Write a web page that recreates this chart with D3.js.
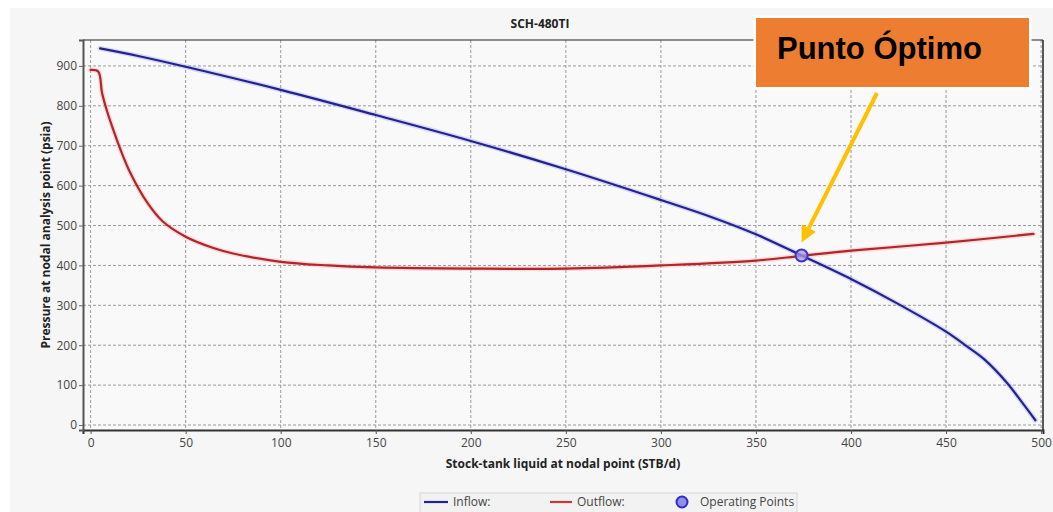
<!DOCTYPE html>
<html>
<head>
<meta charset="utf-8">
<script src="https://cdn.jsdelivr.net/npm/d3@7"></script>
<style>
  html, body { margin: 0; padding: 0; background: #ffffff; }
  svg { display: block; }
</style>
</head>
<body>
<svg id="chart" width="1053" height="512"></svg>
<script>
// Nodal analysis: inflow (IPR) vs outflow (VLP) curves for well SCH-480TI
const chartTitle = "SCH-480TI";
const xTitle = "Stock-tank liquid at nodal point (STB/d)";
const yTitle = "Pressure at nodal analysis point (psia)";

// Inflow performance curve
const inflowRate     = [5, 25, 50, 100, 150, 200, 250, 300, 325, 350, 374, 400, 425, 450, 461, 470, 482, 489, 497];
const inflowPressure = [944, 925, 898, 840, 777, 712, 641, 564, 524, 478, 425, 366, 303, 234, 197, 165, 106, 63, 12];

// Outflow (tubing) performance curve
const outflowRate     = [0, 4, 6, 8.5, 12, 15.5, 21, 30, 38, 50, 65, 75, 100, 125, 150, 200, 250, 300, 350, 374, 400, 450, 496];
const outflowPressure = [890, 886, 833, 789, 739, 693, 631, 556, 510, 472, 443, 430, 409, 400, 395, 392, 392, 400, 412, 424, 437, 457, 479];

// Operating point (intersection)
const operatingRate = [374];
const operatingPressure = [425];

const xTicks = [0, 50, 100, 150, 200, 250, 300, 350, 400, 450, 500];
const yTicks = [0, 100, 200, 300, 400, 500, 600, 700, 800, 900];

const legendLabels = ["Inflow:", "Outflow:", "Operating Points"];
const calloutText = "Punto Óptimo";

const inflowColor = "#23238f";
const outflowColor = "#b0262b";
const opStroke = "#3b35c8";
const opFill = "#a99ce6";

const svg = d3.select("#chart");
const W = 1053, H = 512;
const plot = { left: 83, right: 1043, top: 40, bottom: 430 };

// panel background
svg.append("rect").attr("x", 10).attr("y", 8).attr("width", W - 10).attr("height", H - 8).attr("fill", "#f6f6f6");
svg.append("rect").attr("x", plot.left).attr("y", plot.top)
  .attr("width", plot.right - plot.left).attr("height", plot.bottom - plot.top).attr("fill", "#f9f9f9");

const x = d3.scaleLinear().domain([-4, 501]).range([plot.left, plot.right]);
const y = d3.scaleLinear().domain([-12.5, 965]).range([plot.bottom, plot.top]);

const font = "'Open Sans', 'Noto Sans', sans-serif";

// grid
const grid = svg.append("g");
grid.selectAll("line.v").data(xTicks).join("line")
  .attr("x1", d => x(d)).attr("x2", d => x(d))
  .attr("y1", plot.top).attr("y2", plot.bottom)
  .attr("stroke", "#9a9a9a").attr("stroke-width", 1).attr("stroke-dasharray", "3,2");
grid.selectAll("line.h").data(yTicks).join("line")
  .attr("x1", plot.left).attr("x2", plot.right)
  .attr("y1", d => y(d)).attr("y2", d => y(d))
  .attr("stroke", "#9a9a9a").attr("stroke-width", 1).attr("stroke-dasharray", "3,2");

// frame: top and right thin, left and bottom axes heavier
svg.append("line").attr("x1", plot.left).attr("x2", plot.right).attr("y1", plot.top).attr("y2", plot.top)
  .attr("stroke", "#222").attr("stroke-width", 1.2);
svg.append("line").attr("x1", plot.right).attr("x2", plot.right).attr("y1", plot.top).attr("y2", plot.bottom)
  .attr("stroke", "#222").attr("stroke-width", 1.5);

// axes
const xAxis = d3.axisBottom(x).tickValues(xTicks).tickSize(4).tickPadding(4);
const gx = svg.append("g").attr("transform", `translate(0,${plot.bottom})`).call(xAxis);
gx.select(".domain").attr("stroke", "#333").attr("stroke-width", 2);
gx.selectAll(".tick line").attr("stroke", "#555");
gx.selectAll("text").attr("font-family", font).attr("font-size", 12).attr("fill", "#444");

const yAxis = d3.axisLeft(y).tickValues(yTicks).tickSize(4).tickPadding(2);
const gy = svg.append("g").attr("transform", `translate(${plot.left},0)`).call(yAxis);
gy.select(".domain").attr("stroke", "#555").attr("stroke-width", 2);
gy.selectAll(".tick line").attr("stroke", "#666");
gy.selectAll("text").attr("font-family", font).attr("font-size", 12).attr("fill", "#444");

// titles
svg.append("text").attr("x", 540).attr("y", 28).attr("text-anchor", "middle")
  .attr("font-family", font).attr("font-weight", "bold").attr("font-size", 12).attr("fill", "#222")
  .text(chartTitle);
svg.append("text").attr("x", (plot.left + plot.right) / 2).attr("y", 468).attr("text-anchor", "middle")
  .attr("font-family", font).attr("font-weight", "bold").attr("font-size", 12).attr("fill", "#222")
  .text(xTitle);
svg.append("text").attr("transform", `translate(50,${(plot.top + plot.bottom) / 2}) rotate(-90)`)
  .attr("text-anchor", "middle")
  .attr("font-family", font).attr("font-weight", "bold").attr("font-size", 12).attr("fill", "#222")
  .text(yTitle);

// curves
const line = d3.line().x(d => x(d[0])).y(d => y(d[1])).curve(d3.curveCatmullRom.alpha(0.5));
const inflow = inflowRate.map((q, i) => [q, inflowPressure[i]]);
const outflow = outflowRate.map((q, i) => [q, outflowPressure[i]]);

function drawCurve(data, color, halo) {
  svg.append("path").datum(data).attr("d", line).attr("fill", "none")
    .attr("stroke", halo).attr("stroke-width", 5).attr("stroke-opacity", 0.35)
    .attr("stroke-linejoin", "round").attr("stroke-linecap", "round");
  svg.append("path").datum(data).attr("d", line).attr("fill", "none")
    .attr("stroke", color).attr("stroke-width", 2.2)
    .attr("stroke-linejoin", "round").attr("stroke-linecap", "round");
}
drawCurve(outflow, outflowColor, "#f4a0a4");
drawCurve(inflow, inflowColor, "#9c9cf0");

// operating point
svg.selectAll("circle.op").data(operatingRate).join("circle")
  .attr("cx", d => x(d)).attr("cy", (d, i) => y(operatingPressure[i])).attr("r", 6)
  .attr("fill", opFill).attr("fill-opacity", 0.75)
  .attr("stroke", opStroke).attr("stroke-width", 2);

// callout box
const box = { x: 756, y: 18, w: 273, h: 69 };
svg.append("rect").attr("x", box.x - 2.5).attr("y", box.y - 2.5).attr("width", box.w + 5).attr("height", box.h + 5)
  .attr("fill", "#ffffff");
svg.append("rect").attr("x", box.x).attr("y", box.y).attr("width", box.w).attr("height", box.h)
  .attr("fill", "#ed7d31");
svg.append("text").attr("x", box.x + 21).attr("y", box.y + 41)
  .attr("font-family", "'Liberation Sans', Arial, sans-serif").attr("font-weight", "bold")
  .attr("font-size", 31).attr("fill", "#000").text(calloutText);

// arrow from the callout to the operating point
const tipX = x(operatingRate[0]), tipY = y(operatingPressure[0]) - 13;
const startX = 877, startY = box.y + box.h + 6;
const ang = Math.atan2(tipY - startY, tipX - startX);
const headLen = 16, headHalf = 8;
const baseX = tipX - headLen * Math.cos(ang), baseY = tipY - headLen * Math.sin(ang);
svg.append("line").attr("x1", startX).attr("y1", startY).attr("x2", baseX).attr("y2", baseY)
  .attr("stroke", "#ffc000").attr("stroke-width", 4);
svg.append("path")
  .attr("d", `M${tipX},${tipY} L${baseX + headHalf * Math.sin(ang)},${baseY - headHalf * Math.cos(ang)} L${baseX - headHalf * Math.sin(ang)},${baseY + headHalf * Math.cos(ang)} Z`)
  .attr("fill", "#ffc000");

// legend
const lg = svg.append("g");
lg.append("rect").attr("x", 420).attr("y", 493).attr("width", 377).attr("height", 22)
  .attr("fill", "#f2f2f2").attr("stroke", "#d6d6d6");
const ly = 502;
lg.append("line").attr("x1", 424).attr("x2", 448).attr("y1", ly).attr("y2", ly).attr("stroke", inflowColor).attr("stroke-width", 2.2);
lg.append("text").attr("x", 453).attr("y", ly + 4).text(legendLabels[0]);
lg.append("line").attr("x1", 550).attr("x2", 572).attr("y1", ly).attr("y2", ly).attr("stroke", "#d0353a").attr("stroke-width", 2.2);
lg.append("text").attr("x", 577).attr("y", ly + 4).text(legendLabels[1]);
lg.append("circle").attr("cx", 682).attr("cy", ly).attr("r", 5.5)
  .attr("fill", "#8f8ff0").attr("stroke", "#2d2dc0").attr("stroke-width", 2);
lg.append("text").attr("x", 700).attr("y", ly + 4).text(legendLabels[2]);
lg.selectAll("text").attr("font-family", font).attr("font-size", 12).attr("fill", "#444");
</script>
</body>
</html>
